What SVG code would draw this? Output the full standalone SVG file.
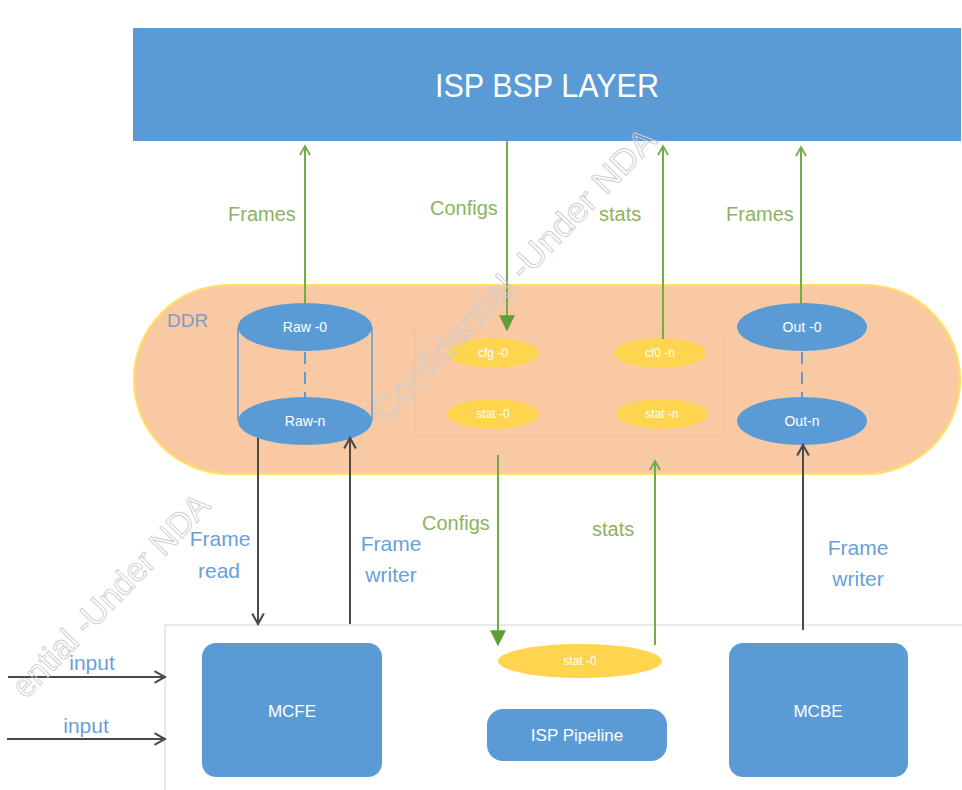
<svg xmlns="http://www.w3.org/2000/svg" width="962" height="790" viewBox="0 0 962 790">
<defs>
<style>
text{font-family:"Liberation Sans","Noto Sans",Arial,sans-serif;}
.blue{fill:#5B9BD5;}
.yel{fill:#FFD54F;}
.wt{fill:#ffffff;text-anchor:middle;dominant-baseline:central;}
.gl{fill:#8DB35E;font-size:20px;}
.bl{fill:#6A9FD8;font-size:21px;text-anchor:middle;}
.ga{stroke:#70AD47;stroke-width:2;fill:none;}
.da{stroke:#4A4A4A;stroke-width:2;fill:none;}
.wm{fill:none;stroke:#cdcdcd;stroke-width:0.9;font-size:34px;}
</style>
<marker id="gOpen" viewBox="0 0 12 12" refX="10" refY="6" markerWidth="12" markerHeight="12" markerUnits="userSpaceOnUse" orient="auto">
<path d="M1,1 L10,6 L1,11" fill="none" stroke="#70AD47" stroke-width="1.8"/>
</marker>
<marker id="gFill" viewBox="0 0 12 12" refX="11" refY="6" markerWidth="16" markerHeight="16" markerUnits="userSpaceOnUse" orient="auto">
<path d="M0,0 L12,6 L0,12 Z" fill="#5E9F38"/>
</marker>
<marker id="dOpen" viewBox="0 0 12 12" refX="10" refY="6" markerWidth="14" markerHeight="14" markerUnits="userSpaceOnUse" orient="auto">
<path d="M1,1 L10,6 L1,11" fill="none" stroke="#4A4A4A" stroke-width="1.8"/>
</marker>
</defs>

<rect x="0" y="0" width="962" height="790" fill="#ffffff"/>

<g id="isp-bsp-layer">
<rect x="133" y="28" width="828" height="113" class="blue"/>
<text x="547" y="97" fill="#ffffff" font-size="33" text-anchor="middle" textLength="224" lengthAdjust="spacingAndGlyphs">ISP BSP LAYER</text>
</g>

<g id="ddr">
<rect x="134" y="285" width="826" height="189" rx="95" ry="95" fill="#F9C9A4" stroke="#FFE066" stroke-width="2.2"/>
<text x="167" y="320" fill="#7E9CC6" font-size="19" dominant-baseline="central">DDR</text>
<rect x="415" y="330" width="310" height="106" fill="none" stroke="#EFC19E" stroke-width="1"/>
</g>

<g id="raw-buffers">
<path d="M238,327 L238,421 M372,327 L372,421" stroke="#5B9BD5" stroke-width="1.5"/>
<line x1="305" y1="352" x2="305" y2="397" stroke="#5B9BD5" stroke-width="2" stroke-dasharray="12,8"/>
<ellipse cx="305" cy="421" rx="67" ry="24" class="blue"/>
<ellipse cx="305" cy="327" rx="67" ry="24" class="blue"/>
<text x="305" y="327" class="wt" font-size="14">Raw -0</text>
<text x="305" y="421" class="wt" font-size="14">Raw-n</text>
</g>

<g id="cfg-0"><ellipse cx="493" cy="353" rx="46" ry="15" class="yel"/><text x="493" y="353" class="wt" font-size="12">cfg -0</text></g>
<g id="cf0-n"><ellipse cx="660" cy="353" rx="46" ry="15" class="yel"/><text x="660" y="353" class="wt" font-size="12">cf0 -n</text></g>
<g id="stat-0-ddr"><ellipse cx="493" cy="414" rx="46" ry="15" class="yel"/><text x="493" y="414" class="wt" font-size="12">stat -0</text></g>
<g id="stat-n"><ellipse cx="662" cy="414" rx="46" ry="15" class="yel"/><text x="662" y="414" class="wt" font-size="12">stat -n</text></g>

<g id="out-buffers">
<line x1="802" y1="352" x2="802" y2="397" stroke="#5B9BD5" stroke-width="2" stroke-dasharray="12,8"/>
<ellipse cx="802" cy="327" rx="65" ry="24" class="blue"/>
<ellipse cx="802" cy="421" rx="65" ry="24" class="blue"/>
<text x="802" y="327" class="wt" font-size="14">Out -0</text>
<text x="802" y="421" class="wt" font-size="14">Out-n</text>
</g>

<g id="hw-block">
<rect x="165" y="625" width="800" height="170" fill="#ffffff" stroke="#dcdcdc" stroke-width="1.2"/>
</g>

<g id="mcfe">
<rect x="202" y="643" width="180" height="134" rx="14" class="blue"/>
<text x="292" y="711" class="wt" font-size="17">MCFE</text>
</g>
<g id="mcbe">
<rect x="729" y="643" width="179" height="134" rx="14" class="blue"/>
<text x="818" y="711" class="wt" font-size="17">MCBE</text>
</g>
<g id="stat-0-pipe">
<ellipse cx="580" cy="661" rx="82" ry="17" class="yel"/>
<text x="580" y="661" class="wt" font-size="12">stat -0</text>
</g>
<g id="isp-pipeline">
<rect x="487" y="709" width="180" height="52" rx="16" class="blue"/>
<text x="577" y="735" class="wt" font-size="17">ISP Pipeline</text>
</g>

<g id="connectors">
<line x1="305" y1="303" x2="305" y2="146" class="ga" marker-end="url(#gOpen)"/>
<line x1="507" y1="141" x2="507" y2="330" class="ga" marker-end="url(#gFill)"/>
<line x1="663" y1="339" x2="663" y2="146" class="ga" marker-end="url(#gOpen)"/>
<line x1="801" y1="303" x2="801" y2="147" class="ga" marker-end="url(#gOpen)"/>

<line x1="258" y1="438" x2="258" y2="624" class="da" marker-end="url(#dOpen)"/>
<line x1="350" y1="624" x2="350" y2="438" class="da" marker-end="url(#dOpen)"/>
<line x1="498" y1="455" x2="498" y2="645" class="ga" marker-end="url(#gFill)"/>
<line x1="655" y1="645" x2="655" y2="461" class="ga" marker-end="url(#gOpen)"/>
<line x1="803" y1="630" x2="803" y2="445" class="da" marker-end="url(#dOpen)"/>

<line x1="8" y1="677" x2="165" y2="677" class="da" marker-end="url(#dOpen)"/>
<line x1="7" y1="739" x2="165" y2="739" class="da" marker-end="url(#dOpen)"/>

<text x="228" y="221" class="gl">Frames</text>
<text x="430" y="215" class="gl">Configs</text>
<text x="599" y="221" class="gl">stats</text>
<text x="726" y="221" class="gl">Frames</text>

<text x="220" y="546" class="bl">Frame</text>
<text x="219" y="578" class="bl">read</text>
<text x="391" y="551" class="bl">Frame</text>
<text x="391" y="582" class="bl">writer</text>
<text x="858" y="555" class="bl">Frame</text>
<text x="858" y="586" class="bl">writer</text>

<text x="422" y="530" class="gl">Configs</text>
<text x="592" y="536" class="gl">stats</text>

<text x="92" y="670" class="bl">input</text>
<text x="86" y="733" class="bl">input</text>
</g>

<g id="watermarks">
<text x="386" y="424" class="wm" transform="rotate(-46 386 424)" textLength="392" lengthAdjust="spacingAndGlyphs">Confidential -Under NDA</text>
<text x="26" y="700" class="wm" transform="rotate(-46 26 700)" textLength="268" lengthAdjust="spacingAndGlyphs">ential -Under NDA</text>
</g>
</svg>
